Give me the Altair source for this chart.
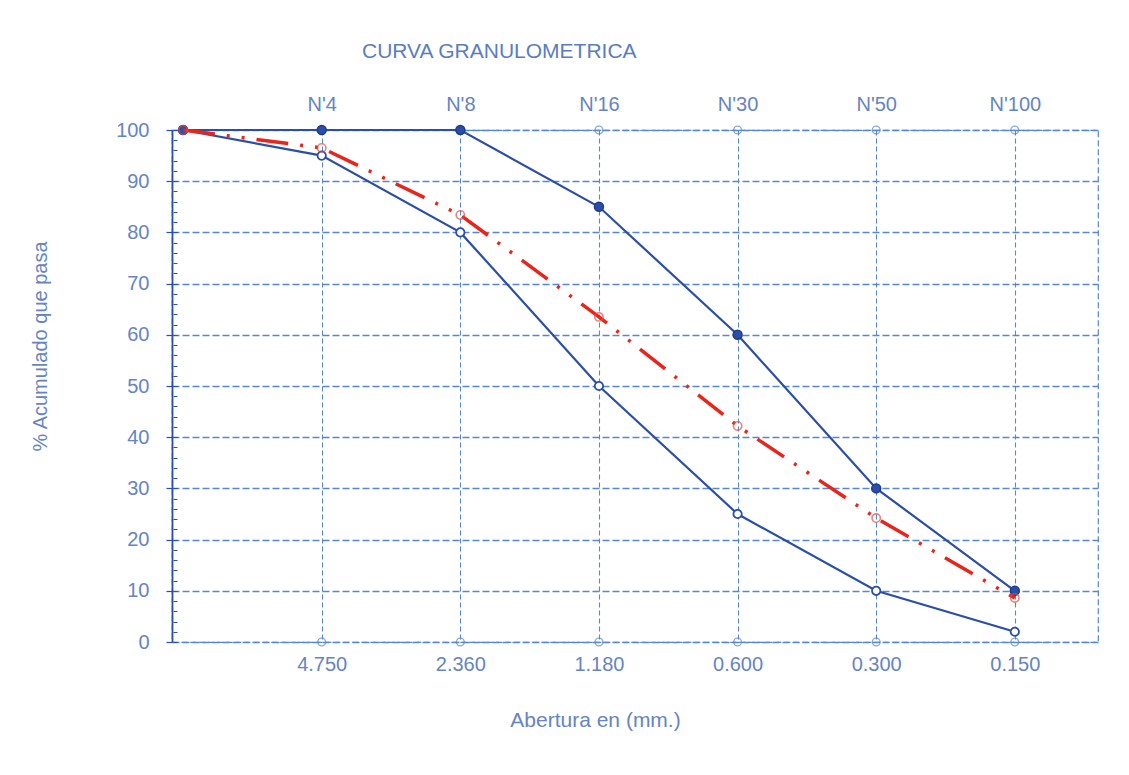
import altair as alt
import pandas as pd

# ---- data ----
positions = [0, 1, 2, 3, 4, 5, 6]
aperture_labels = ["", "4.750", "2.360", "1.180", "0.600", "0.300", "0.150"]
sieve_labels = ["", "N'4", "N'8", "N'16", "N'30", "N'50", "N'100"]
upper_limit = [100, 100, 100, 85, 60, 30, 10]
lower_limit = [100, 95, 80, 50, 25, 10, 2]
sample = [100, 96.5, 83.4, 63.5, 42.2, 24.2, 8.6]
frame_positions = [1, 2, 3, 4, 5, 6]
frame_levels = [0, 100]
y_ticks = [0, 10, 20, 30, 40, 50, 60, 70, 80, 90, 100]
y_minor = list(range(0, 101, 2))

FONT = "Liberation Sans"
TXT = "#6584c2"
GRID = "#5687cf"
BLUE = "#2b4ea6"
RED = "#e8241b"

df_upper = pd.DataFrame({"x": positions, "y": upper_limit})
df_lower = pd.DataFrame({"x": positions, "y": lower_limit})
df_sample = pd.DataFrame({"x": positions, "y": sample})
df_frame = pd.DataFrame([{"x": p, "y": l} for p in frame_positions for l in frame_levels])

bottom_expr = "[" + ",".join(f"'{s}'" for s in aperture_labels) + "][datum.value]"
top_expr = "[" + ",".join('"' + s + '"' for s in sieve_labels) + "][datum.value]"

xscale = alt.Scale(domain=[-0.08, 6.6], nice=False, zero=False)
yscale = alt.Scale(domain=[0, 100], nice=False)

x_bottom = alt.X("x:Q", scale=xscale,
                 axis=alt.Axis(orient="bottom", values=frame_positions, labelExpr=bottom_expr,
                               title="Abertura en (mm.)", titleX=423, titleY=78,
                               titleBaseline="middle", titleFont=FONT, titleFontSize=21,
                               titleFontWeight="normal", titleColor=TXT,
                               labelFont=FONT, labelFontSize=20, labelColor=TXT,
                               labelPadding=12, ticks=False, domain=False,
                               grid=True, gridColor=GRID, gridDash=[5, 3], gridWidth=1.1))
y_main = alt.Y("y:Q", scale=yscale,
               axis=alt.Axis(orient="left", values=y_ticks, title="% Acumulado que pasa",
                             titleX=-132, titleY=216, titleBaseline="middle",
                             titleFont=FONT, titleFontSize=20, titleFontWeight="normal",
                             titleColor=TXT, labelFont=FONT, labelFontSize=20,
                             labelColor=TXT, labelPadding=17, tickSize=6,
                             tickColor=BLUE, tickWidth=1.2, domainColor=BLUE,
                             domainWidth=1.8, grid=True, gridColor=GRID,
                             gridDash=[7, 3], gridWidth=1.3))

xn = alt.X("x:Q", scale=xscale, axis=None)
yn = alt.Y("y:Q", scale=yscale, axis=None)

grid_layer = alt.Chart(df_frame).mark_point(shape="circle", filled=False, size=60,
                                             color="#5b86c8", strokeWidth=1.4).encode(x=x_bottom, y=y_main)

top_axis_layer = alt.Chart(df_frame).mark_point(opacity=0).encode(
    x=alt.X("x:Q", scale=xscale,
            axis=alt.Axis(orient="top", values=frame_positions, labelExpr=top_expr, title=None,
                          labelFont=FONT, labelFontSize=20, labelColor=TXT, labelPadding=16,
                          ticks=False, domain=False, grid=False)),
    y=alt.Y("y:Q", scale=yscale,
            axis=alt.Axis(orient="left", values=y_minor, labels=False, title=None,
                          tickSize=4, offset=-5, domain=False, grid=False,
                          tickColor=BLUE, tickWidth=1)))

upper = alt.Chart(df_upper).mark_line(color=BLUE, strokeWidth=2.2,
                                      point=alt.OverlayMarkDef(filled=True, size=80, color=BLUE,
                                                               stroke="#1d3c8f", strokeWidth=1.5)
                                      ).encode(x=xn, y=yn)
lower = alt.Chart(df_lower).mark_line(color=BLUE, strokeWidth=2.2,
                                      point=alt.OverlayMarkDef(filled=True, size=70, fill="white",
                                                               stroke=BLUE, strokeWidth=1.8)
                                      ).encode(x=xn, y=yn)
red = alt.Chart(df_sample).mark_line(color=RED, strokeWidth=3.5,
                                     strokeDash=[32, 12, 3, 12, 3, 12]).encode(x=xn, y=yn)
red_pts = alt.Chart(df_sample).mark_point(shape="circle", filled=False, size=70,
                                          color="#e0503f", strokeWidth=1.6).encode(x=xn, y=yn)

chart = alt.layer(grid_layer, top_axis_layer, lower, upper, red, red_pts).resolve_axis(
    x="independent", y="independent"
).properties(
    width=926, height=512,
    padding={"left": 164, "top": 122, "right": 20, "bottom": 125},
    autosize=alt.AutoSizeParams(type="none"),
    title=alt.TitleParams("CURVA GRANULOMETRICA", anchor="start", dx=332, offset=32,
                          font=FONT, fontSize=21, fontWeight="normal", color="#5a7dc0"),
).configure_view(stroke=GRID, strokeDash=[6, 3], strokeWidth=1.2)

chart.save("out.html", embed_options={"renderer": "svg", "actions": False})
